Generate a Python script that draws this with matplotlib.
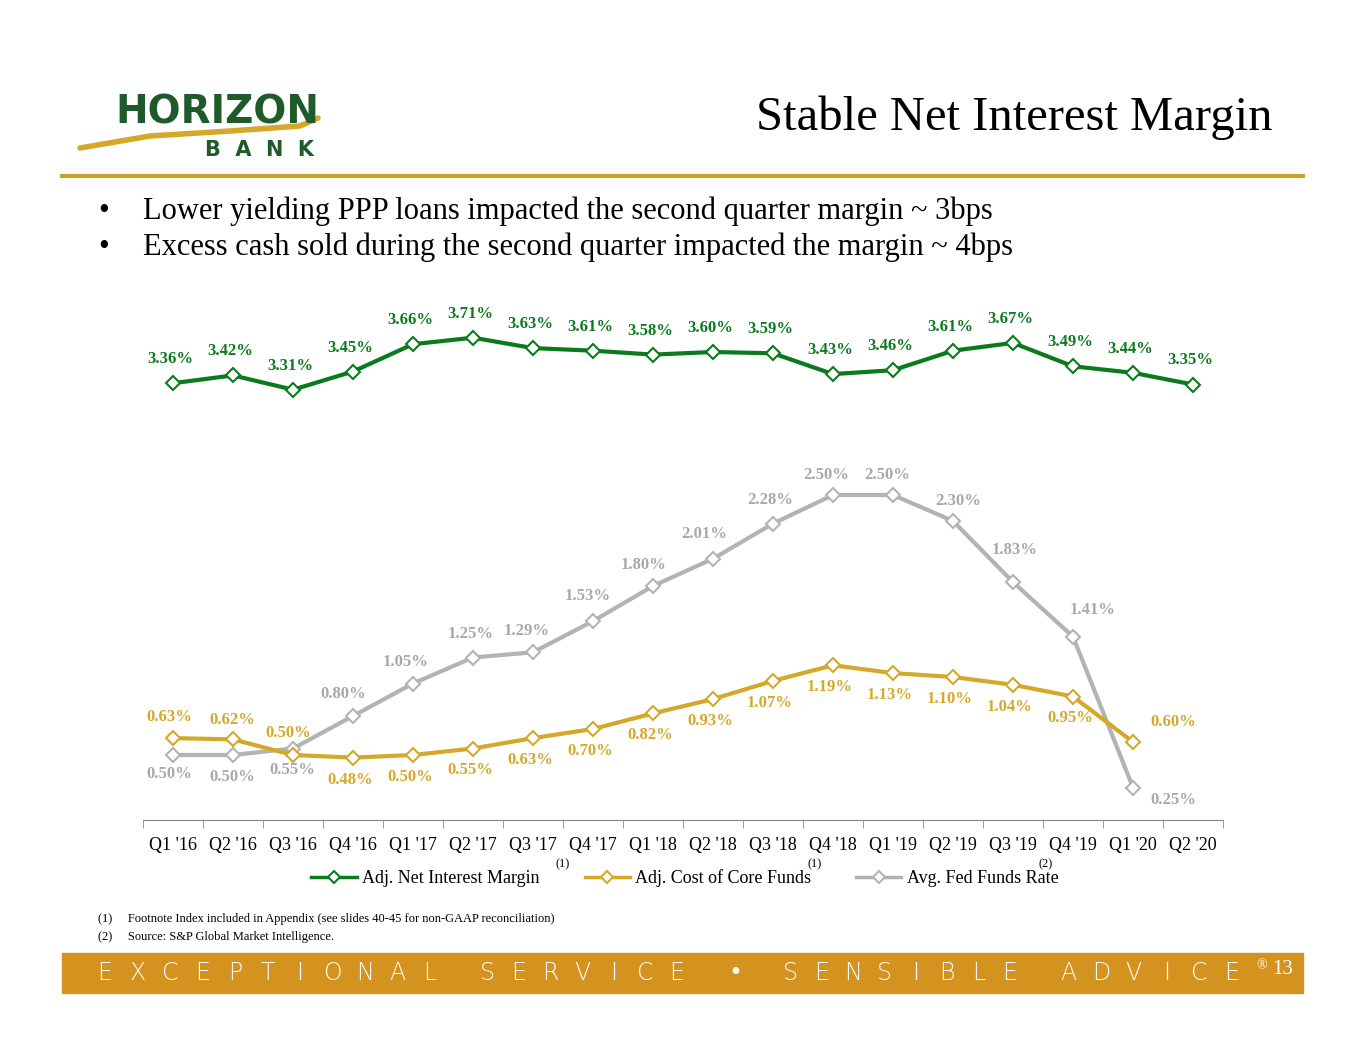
import matplotlib.pyplot as plt
from matplotlib.patches import Rectangle
from matplotlib.lines import Line2D
import numpy as np

plt.rcParams['font.family'] = ['Liberation Serif', 'DejaVu Serif']

quarters = ["Q1 '16", "Q2 '16", "Q3 '16", "Q4 '16", "Q1 '17", "Q2 '17", "Q3 '17", "Q4 '17",
            "Q1 '18", "Q2 '18", "Q3 '18", "Q4 '18", "Q1 '19", "Q2 '19", "Q3 '19", "Q4 '19",
            "Q1 '20", "Q2 '20"]
nim = [3.36, 3.42, 3.31, 3.45, 3.66, 3.71, 3.63, 3.61, 3.58, 3.60, 3.59, 3.43, 3.46,
       3.61, 3.67, 3.49, 3.44, 3.35]
core_funds = [0.63, 0.62, 0.50, 0.48, 0.50, 0.55, 0.63, 0.70, 0.82, 0.93, 1.07, 1.19,
              1.13, 1.10, 1.04, 0.95, 0.60]
fed_funds = [0.50, 0.50, 0.55, 0.80, 1.05, 1.25, 1.29, 1.53, 1.80, 2.01, 2.28, 2.50,
             2.50, 2.30, 1.83, 1.41, 0.25]

GREEN = '#0b7a1f'
GOLD = '#d6a82a'
GRAY = '#b3b3b3'
BAND = '#d4931f'

# label offsets in pixels (dx, dy)
core_off = [(-4, 21), (-1, 19), (-5, 22)] + [(-3, -22)] * 13 + [(40, 20)]
fed_off = [(-4, -19), (-1, -22), (-1, -22), (-10, 22), (-7, 22), (-2, 23), (-6, 21),
           (-5, 25), (-10, 21), (-9, 25), (-3, 24), (-7, 20), (-6, 20), (5, 20),
           (2, 32), (20, 27), (40, -12)]

fig = plt.figure(figsize=(13.65, 10.55), dpi=100)
W, H = 1365, 1055

# header
fig.text(1273 / W, 1 - 118 / H, 'Stable Net Interest Margin', ha='right', va='center',
         fontsize=35, color='black')
fig.text(115 / W, 1 - 112 / H, 'HORIZON', fontsize=28, color='#1f5a2a', fontweight='bold',
         family='DejaVu Sans', va='center')
fig.text(205 / W, 1 - 150 / H, 'B  A  N  K', fontsize=15, color='#1f5a2a', fontweight='bold',
         family='DejaVu Sans', va='center')
sw = fig.add_axes([0, 0, 1, 1], zorder=-1)
sw.set_xlim(0, W); sw.set_ylim(H, 0); sw.axis('off')
xs = np.array([80, 150, 230, 300, 318])
ys = np.array([148, 136, 131, 126, 118])
sw.plot(xs, ys, color=GOLD, lw=4, solid_capstyle='round')
sw.plot([62, 1303], [176, 176], color='#c9a227', lw=3)
sw.add_patch(Rectangle((62, 953), 1241, 40, color=BAND))

fig.text(98 / W, 1 - 211 / H, '•', fontsize=22, va='center')
fig.text(143 / W, 1 - 211 / H, 'Lower yielding PPP loans impacted the second quarter margin ~ 3bps',
         fontsize=22, va='center')
fig.text(98 / W, 1 - 247 / H, '•', fontsize=22, va='center')
fig.text(143 / W, 1 - 247 / H, 'Excess cash sold during the second quarter impacted the margin ~ 4bps',
         fontsize=22, va='center')

# chart
ax = fig.add_axes([143 / W, 1 - 820 / H, 1080 / W, 520 / H])
x = np.arange(len(quarters))
mk = dict(marker='D', markersize=7, markerfacecolor='white', markeredgewidth=1.5, lw=3)
ax.plot(x[:len(fed_funds)], fed_funds, color=GRAY, **mk)
ax.plot(x[:len(core_funds)], core_funds, color=GOLD, **mk)
ax.plot(x, nim, color=GREEN, **mk)

for i, v in enumerate(nim):
    ax.annotate(f'{v:.2f}%', (i, v), xytext=(-3, 24), textcoords='offset pixels',
                ha='center', va='center', fontsize=12, color=GREEN, fontweight='bold')
for i, v in enumerate(core_funds):
    ax.annotate(f'{v:.2f}%', (i, v), xytext=core_off[i], textcoords='offset pixels',
                ha='center', va='center', fontsize=12, color=GOLD, fontweight='bold')
for i, v in enumerate(fed_funds):
    ax.annotate(f'{v:.2f}%', (i, v), xytext=fed_off[i], textcoords='offset pixels',
                ha='center', va='center', fontsize=12, color='#a8a8a8', fontweight='bold')

ax.set_xlim(-0.5, len(quarters) - 0.5)
ax.set_ylim(0, 4.0)
ax.set_yticks([])
for s in ['top', 'right', 'left']:
    ax.spines[s].set_visible(False)
ax.spines['bottom'].set_color('#888888')
ax.set_xticks(x)
ax.set_xticklabels(quarters, fontsize=13)
ax.set_xticks(np.arange(-0.5, len(quarters)), minor=True)
ax.tick_params(axis='x', which='major', length=0, pad=12)
ax.tick_params(axis='x', which='minor', length=6, color='#888888')

handles = [Line2D([], [], color=c, marker='D', markerfacecolor='white', markersize=6,
                  markeredgewidth=1.5, lw=2.5) for c in (GREEN, GOLD, GRAY)]
fig.legend(handles, ['Adj. Net Interest Margin', 'Adj. Cost of Core Funds', 'Avg. Fed Funds Rate'],
           loc='center', bbox_to_anchor=(685 / W, 1 - 878 / H), ncol=3, frameon=False,
           fontsize=13, handlelength=2.5, columnspacing=2.5, handletextpad=0.3)
for px, t in [(563, '(1)'), (815, '(1)'), (1046, '(2)')]:
    fig.text(px / W, 1 - 864 / H, t, fontsize=9, ha='center', va='center')

fig.text(98 / W, 1 - 919 / H, '(1)     Footnote Index included in Appendix (see slides 40-45 for non-GAAP reconciliation)',
         fontsize=9, va='center')
fig.text(98 / W, 1 - 937 / H, '(2)     Source: S&P Global Market Intelligence.', fontsize=9, va='center')

# footer slogan, letters spread over each word's span
words = [('EXCEPTIONAL', 105, 430), ('SERVICE', 487, 677), ('•', 735, 735),
         ('SENSIBLE', 790, 1010), ('ADVICE', 1068, 1232)]
for word, x0, x1 in words:
    n = len(word)
    wt = 'normal' if word == '•' else 'light'
    for k, ch in enumerate(word):
        px = x0 if n == 1 else x0 + (x1 - x0) * k / (n - 1)
        fig.text(px / W, 1 - 973 / H, ch, fontsize=17, color='white', family='DejaVu Sans',
                 fontweight=wt, ha='center', va='center')
fig.text(1262 / W, 1 - 966 / H, '®', fontsize=10, color='white', ha='center', va='center')
fig.text(1293 / W, 1 - 970 / H, '13', fontsize=15, color='white', ha='right', va='center')

fig.savefig('out.png', dpi=100)
